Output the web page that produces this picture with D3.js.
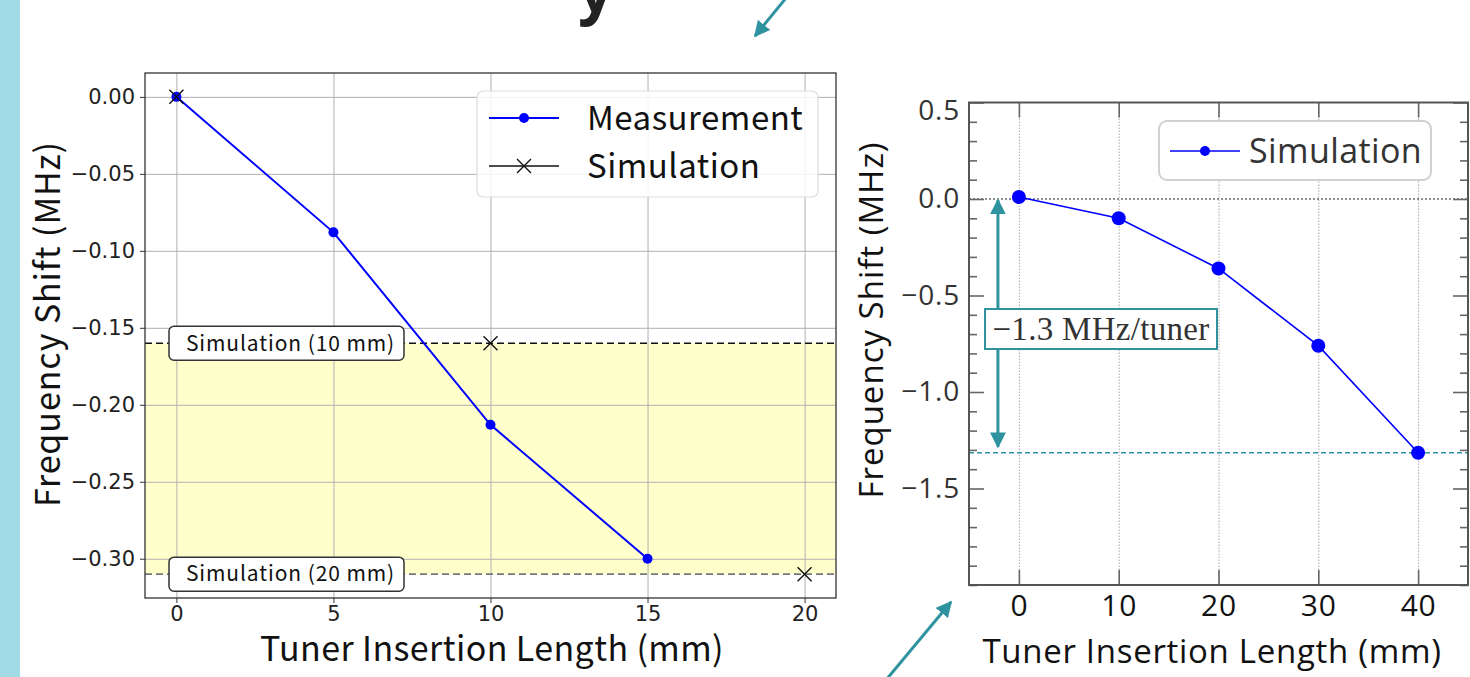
<!DOCTYPE html>
<html>
<head>
<meta charset="utf-8">
<script src="https://cdn.jsdelivr.net/npm/d3@7"></script>
<style>
  html, body { margin: 0; padding: 0; background: #fff; }
  svg { display: block; }
</style>
</head>
<body>
<svg id="chart" width="1470" height="677"></svg>
<script>
// left panel data: measured vs simulated frequency shift
var measLength = [0, 5, 10, 15];
var measShift = [0, -0.088, -0.213, -0.300];
var simLength = [0, 10, 20];
var simShift = [0, -0.160, -0.310];
var leftXTicks = [0, 5, 10, 15, 20];
var leftYTicks = [0, -0.05, -0.10, -0.15, -0.20, -0.25, -0.30];
var refLabels = ['Simulation (10 mm)', 'Simulation (20 mm)'];
var refValues = [-0.160, -0.310];

// right panel data: simulation up to 40 mm
var rightLength = [0, 10, 20, 30, 40];
var rightShift = [0.01, -0.10, -0.36, -0.76, -1.315];
var rightXTicks = [0, 10, 20, 30, 40];
var rightYTicks = [0.5, 0, -0.5, -1.0, -1.5];
var perTunerLabel = '\u22121.3 MHz/tuner';

var teal = '#2e939f';
var sansJP = '"Noto Sans CJK JP", "Noto Sans", sans-serif';

var svg = d3.select('#chart');

var defs = svg.append('defs');
defs.append('marker')
    .attr('id', 'tealHead')
    .attr('viewBox', '0 0 10 10')
    .attr('refX', 9)
    .attr('refY', 5)
    .attr('markerUnits', 'userSpaceOnUse')
    .attr('markerWidth', 16)
    .attr('markerHeight', 16)
    .attr('orient', 'auto-start-reverse')
    .append('path')
    .attr('d', 'M0,0 L10,5 L0,10 Z')
    .attr('fill', teal);

// slide decoration
svg.append('rect')
    .attr('x', 0).attr('y', 0)
    .attr('width', 20).attr('height', 677)
    .attr('fill', '#a2dbe5');

svg.append('text')
    .attr('x', 578).attr('y', 12)
    .attr('font-family', '"Noto Sans", sans-serif')
    .attr('font-weight', 'bold')
    .attr('font-size', 62)
    .attr('fill', '#222')
    .text('y');

svg.append('line')
    .attr('x1', 786).attr('y1', -2)
    .attr('x2', 755).attr('y2', 36)
    .attr('stroke', teal).attr('stroke-width', 3)
    .attr('marker-end', 'url(#tealHead)');

svg.append('line')
    .attr('x1', 886).attr('y1', 680)
    .attr('x2', 951).attr('y2', 602)
    .attr('stroke', teal).attr('stroke-width', 3)
    .attr('marker-end', 'url(#tealHead)');

// ---------------- left panel ----------------
var L = { left: 145, right: 836, top: 73, bottom: 598 };
var xL = d3.scaleLinear().domain([-1, 21]).range([L.left, L.right]);
var yL = d3.scaleLinear().domain([-0.3255, 0.0155]).range([L.bottom, L.top]);

var gl = svg.append('g');

gl.append('rect')
    .attr('x', L.left).attr('y', yL(refValues[0]))
    .attr('width', L.right - L.left)
    .attr('height', yL(refValues[1]) - yL(refValues[0]))
    .attr('fill', '#ffffcc');

// grid
gl.append('g')
    .attr('transform', `translate(0,${L.bottom})`)
    .call(d3.axisBottom(xL).tickValues(leftXTicks).tickSize(-(L.bottom - L.top)).tickFormat(''))
    .call(g => g.select('.domain').remove())
    .call(g => g.selectAll('line').attr('stroke', '#b0b0b0').attr('stroke-width', 1));
gl.append('g')
    .attr('transform', `translate(${L.left},0)`)
    .call(d3.axisLeft(yL).tickValues(leftYTicks).tickSize(-(L.right - L.left)).tickFormat(''))
    .call(g => g.select('.domain').remove())
    .call(g => g.selectAll('line').attr('stroke', '#b0b0b0').attr('stroke-width', 1));

// reference lines
var refColors = ['#111', '#777'];
refValues.forEach(function (v, i) {
    gl.append('line')
        .attr('x1', L.left).attr('x2', L.right)
        .attr('y1', yL(v)).attr('y2', yL(v))
        .attr('stroke', refColors[i])
        .attr('stroke-width', 1.6)
        .attr('stroke-dasharray', '7,4');
});

// axes
var axL = gl.append('g')
    .attr('transform', `translate(0,${L.bottom})`)
    .call(d3.axisBottom(xL).tickValues(leftXTicks).tickSize(5).tickPadding(3).tickFormat(d3.format('d')));
var ayL = gl.append('g')
    .attr('transform', `translate(${L.left},0)`)
    .call(d3.axisLeft(yL).tickValues(leftYTicks).tickSize(5).tickPadding(5).tickFormat(d3.format('.2f')));
[axL, ayL].forEach(function (a) {
    a.select('.domain').remove();
    a.selectAll('line').attr('stroke', '#333');
    a.selectAll('text')
        .attr('font-family', '"DejaVu Sans", sans-serif')
        .attr('font-size', 21)
        .attr('fill', '#222');
});

gl.append('rect')
    .attr('x', L.left).attr('y', L.top)
    .attr('width', L.right - L.left).attr('height', L.bottom - L.top)
    .attr('fill', 'none').attr('stroke', '#333').attr('stroke-width', 1.3);

// measurement series
var lineL = d3.line().x(d => xL(d[0])).y(d => yL(d[1]));
var measPts = measLength.map((d, i) => [d, measShift[i]]);
gl.append('path')
    .datum(measPts)
    .attr('d', lineL)
    .attr('fill', 'none')
    .attr('stroke', '#0000ff')
    .attr('stroke-width', 2);
gl.selectAll('.meas')
    .data(measPts)
    .enter().append('circle')
    .attr('cx', d => xL(d[0])).attr('cy', d => yL(d[1]))
    .attr('r', 5)
    .attr('fill', '#0000ff');

// simulation markers
function cross(g, cx, cy, s, w) {
    g.append('path')
        .attr('d', `M${cx - s},${cy - s}L${cx + s},${cy + s}M${cx - s},${cy + s}L${cx + s},${cy - s}`)
        .attr('stroke', '#111')
        .attr('stroke-width', w)
        .attr('fill', 'none');
}
simLength.forEach(function (d, i) {
    cross(gl, xL(d), yL(simShift[i]), 7, 1.4);
});

// reference labels
refValues.forEach(function (v, i) {
    var bx = L.left + 24, bw = 235, bh = 34;
    gl.append('rect')
        .attr('x', bx).attr('y', yL(v) - bh / 2)
        .attr('width', bw).attr('height', bh)
        .attr('rx', 5)
        .attr('fill', '#fff')
        .attr('stroke', '#333')
        .attr('stroke-width', 1.5);
    gl.append('text')
        .attr('x', bx + bw / 2 + 4).attr('y', yL(v))
        .attr('dy', '0.35em')
        .attr('text-anchor', 'middle')
        .attr('font-family', sansJP)
        .attr('font-size', 21)
        .attr('letter-spacing', 0.9)
        .attr('fill', '#111')
        .text(refLabels[i]);
});

// legend
var lgL = gl.append('g');
lgL.append('rect')
    .attr('x', 477).attr('y', 91)
    .attr('width', 341).attr('height', 106)
    .attr('rx', 6)
    .attr('fill', '#fff').attr('fill-opacity', 0.85)
    .attr('stroke', '#ddd').attr('stroke-width', 1.2);
lgL.append('line')
    .attr('x1', 489).attr('x2', 559).attr('y1', 118).attr('y2', 118)
    .attr('stroke', '#0000ff').attr('stroke-width', 2);
lgL.append('circle')
    .attr('cx', 524).attr('cy', 118).attr('r', 5)
    .attr('fill', '#0000ff');
lgL.append('line')
    .attr('x1', 489).attr('x2', 559).attr('y1', 166).attr('y2', 166)
    .attr('stroke', '#111').attr('stroke-width', 1.6);
cross(lgL, 524, 166, 7, 1.4);
lgL.selectAll('.lt')
    .data(['Measurement', 'Simulation'])
    .enter().append('text')
    .attr('x', 587)
    .attr('y', (d, i) => 118 + i * 48)
    .attr('dy', '0.36em')
    .attr('font-family', sansJP)
    .attr('font-size', 33)
    .attr('letter-spacing', 0.5)
    .attr('fill', '#111')
    .text(d => d);

// axis titles
gl.append('text')
    .attr('x', 492).attr('y', 661)
    .attr('text-anchor', 'middle')
    .attr('font-family', sansJP)
    .attr('font-size', 34)
    .attr('letter-spacing', 0.4)
    .attr('fill', '#111')
    .text('Tuner Insertion Length (mm)');
gl.append('text')
    .attr('transform', 'translate(60,324) rotate(-90)')
    .attr('text-anchor', 'middle')
    .attr('font-family', sansJP)
    .attr('font-size', 34)
    .attr('letter-spacing', 0.9)
    .attr('fill', '#111')
    .text('Frequency Shift (MHz)');

// ---------------- right panel ----------------
var R = { left: 969, right: 1468, top: 102.5, bottom: 585 };
var xR = d3.scaleLinear().domain([-5, 45]).range([R.left, R.right]);
var yR = d3.scaleLinear().domain([-2, 0.5]).range([R.bottom, R.top]);

var gr = svg.append('g');

// dotted vertical grid
gr.append('g')
    .attr('transform', `translate(0,${R.bottom})`)
    .call(d3.axisBottom(xR).tickValues(rightXTicks).tickSize(-(R.bottom - R.top)).tickFormat(''))
    .call(g => g.select('.domain').remove())
    .call(g => g.selectAll('line').attr('stroke', '#aaa').attr('stroke-width', 1).attr('stroke-dasharray', '1.5,1.5'));

// zero line
gr.append('line')
    .attr('x1', R.left).attr('x2', R.right)
    .attr('y1', yR(0)).attr('y2', yR(0))
    .attr('stroke', '#222').attr('stroke-width', 1.2)
    .attr('stroke-dasharray', '2,2');

// level line at last point
var lastShift = rightShift[rightShift.length - 1];
gr.append('line')
    .attr('x1', R.left).attr('x2', R.right)
    .attr('y1', yR(lastShift)).attr('y2', yR(lastShift))
    .attr('stroke', teal).attr('stroke-width', 1.5)
    .attr('stroke-dasharray', '5,3');

// ticks (inward, mirrored)
var minorTicks = yR.ticks(25).filter(t => rightYTicks.indexOf(+t.toFixed(1)) < 0);
function styleTicks(g) {
    g.select('.domain').remove();
    g.selectAll('line').attr('stroke', '#666').attr('stroke-width', 1.6);
}
gr.append('g').attr('transform', `translate(${R.left},0)`)
    .call(d3.axisLeft(yR).tickValues(minorTicks).tickSize(-8).tickFormat(''))
    .call(styleTicks);
gr.append('g').attr('transform', `translate(${R.right},0)`)
    .call(d3.axisRight(yR).tickValues(minorTicks).tickSize(-8).tickFormat(''))
    .call(styleTicks);
gr.append('g').attr('transform', `translate(${R.right},0)`)
    .call(d3.axisRight(yR).tickValues(rightYTicks).tickSize(-15).tickFormat(''))
    .call(styleTicks);
gr.append('g').attr('transform', `translate(0,${R.top})`)
    .call(d3.axisTop(xR).tickValues(rightXTicks).tickSize(-15).tickFormat(''))
    .call(styleTicks);

var ayR = gr.append('g').attr('transform', `translate(${R.left},0)`)
    .call(d3.axisLeft(yR).tickValues(rightYTicks).tickSize(-15).tickPadding(9).tickFormat(d3.format('.1f')))
    .call(styleTicks);
ayR.selectAll('text')
    .attr('font-family', '"Open Sans", sans-serif')
    .attr('font-size', 28)
    .attr('letter-spacing', 0.8)
    .attr('fill', '#333')
    .attr('dy', d => d === 0.5 ? '0.62em' : '0.32em');

var axR = gr.append('g').attr('transform', `translate(0,${R.bottom})`)
    .call(d3.axisBottom(xR).tickValues(rightXTicks).tickSize(-15).tickPadding(10).tickFormat(d3.format('d')))
    .call(styleTicks);
axR.selectAll('text')
    .attr('font-family', '"Open Sans", sans-serif')
    .attr('font-size', 30)
    .attr('letter-spacing', 0.8)
    .attr('fill', '#111');

gr.append('rect')
    .attr('x', R.left).attr('y', R.top)
    .attr('width', R.right - R.left).attr('height', R.bottom - R.top)
    .attr('fill', 'none').attr('stroke', '#555').attr('stroke-width', 2);

// simulation series
var ptsR = rightLength.map((d, i) => [d, rightShift[i]]);
gr.append('path')
    .datum(ptsR)
    .attr('d', d3.line().x(d => xR(d[0])).y(d => yR(d[1])))
    .attr('fill', 'none')
    .attr('stroke', '#0000ff')
    .attr('stroke-width', 1.6);
gr.selectAll('.simR')
    .data(ptsR)
    .enter().append('circle')
    .attr('cx', d => xR(d[0])).attr('cy', d => yR(d[1]))
    .attr('r', 7)
    .attr('fill', '#0000ff');

// double arrow annotation
var arrowX = xR(-2.1);
gr.append('line')
    .attr('x1', arrowX).attr('x2', arrowX)
    .attr('y1', yR(0) + 1).attr('y2', yR(lastShift) - 6)
    .attr('stroke', teal).attr('stroke-width', 3)
    .attr('marker-start', 'url(#tealHead)')
    .attr('marker-end', 'url(#tealHead)');
gr.append('rect')
    .attr('x', 985).attr('y', 309)
    .attr('width', 232).attr('height', 40)
    .attr('fill', '#fff')
    .attr('stroke', teal).attr('stroke-width', 2);
gr.append('text')
    .attr('x', 1101).attr('y', 329)
    .attr('dy', '0.34em')
    .attr('text-anchor', 'middle')
    .attr('font-family', '"Liberation Serif", "DejaVu Serif", serif')
    .attr('font-size', 33)
    .attr('letter-spacing', 0.3)
    .attr('fill', '#333')
    .text(perTunerLabel);

// legend
var lgR = gr.append('g');
lgR.append('rect')
    .attr('x', 1159).attr('y', 121)
    .attr('width', 272).attr('height', 59)
    .attr('rx', 8)
    .attr('fill', '#fff')
    .attr('stroke', '#d0d0d0').attr('stroke-width', 2);
lgR.append('line')
    .attr('x1', 1170).attr('x2', 1240).attr('y1', 151).attr('y2', 151)
    .attr('stroke', '#0000ff').attr('stroke-width', 1.6);
lgR.append('circle')
    .attr('cx', 1205).attr('cy', 151).attr('r', 5)
    .attr('fill', '#0000ff');
lgR.append('text')
    .attr('x', 1249).attr('y', 151)
    .attr('dy', '0.36em')
    .attr('font-family', '"Open Sans", sans-serif')
    .attr('font-size', 34)
    .attr('letter-spacing', 0.4)
    .attr('fill', '#333')
    .text('Simulation');

// axis titles
gr.append('text')
    .attr('x', 1212).attr('y', 663)
    .attr('text-anchor', 'middle')
    .attr('font-family', '"Open Sans", sans-serif')
    .attr('font-size', 33)
    .attr('letter-spacing', 0.7)
    .attr('fill', '#111')
    .text('Tuner Insertion Length (mm)');
gr.append('text')
    .attr('transform', 'translate(883,320) rotate(-90)')
    .attr('text-anchor', 'middle')
    .attr('font-family', '"Open Sans", sans-serif')
    .attr('font-size', 33)
    .attr('letter-spacing', 1)
    .attr('fill', '#111')
    .text('Frequency Shift (MHz)');
</script>
</body>
</html>
